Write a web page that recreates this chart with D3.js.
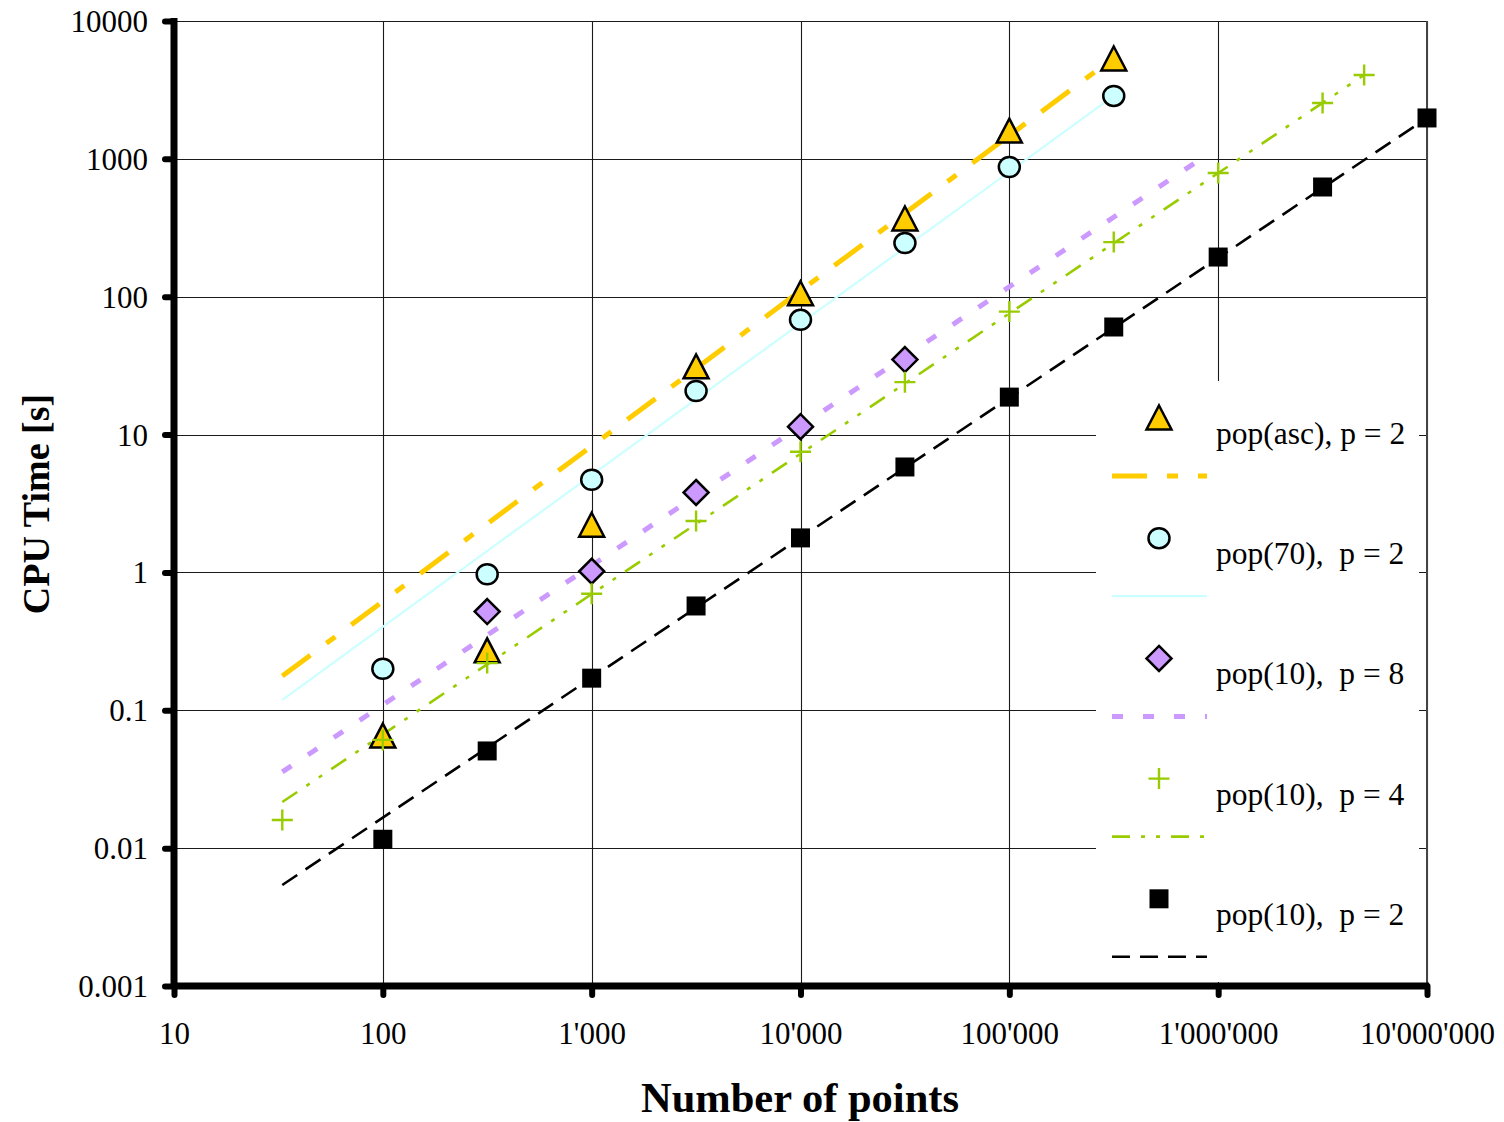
<!DOCTYPE html>
<html>
<head>
<meta charset="utf-8">
<script src="https://cdn.jsdelivr.net/npm/d3@7"></script>
<style>
    body { margin: 0; background: #fff; }
    svg { display: block; font-family: "Liberation Serif", "Times New Roman", serif; }
</style>
</head>
<body>
<svg id="chart" width="1504" height="1122"></svg>
<script>
// tick values
var xTicks = [10, 100, 1000, 10000, 100000, 1000000, 10000000];
var yTicks = [0.001, 0.01, 0.1, 1, 10, 100, 1000, 10000];

// pop(asc), p = 2
var ascX = [100, 316, 1000, 3162, 10000, 31623, 100000, 316228];
var ascY = [0.065, 0.27, 2.2, 31, 105, 366, 1590, 5300];
var ascTrend = [[33, 0.177], [316228, 5400]];

// pop(70), p = 2
var p70X = [100, 316, 1000, 3162, 10000, 31623, 100000, 316228];
var p70Y = [0.2, 0.97, 4.7, 20.7, 68, 245, 873, 2860];
var p70Trend = [[33, 0.119], [316228, 2860]];

// pop(10), p = 8
var p8X = [316, 1000, 3162, 10000, 31623];
var p8Y = [0.52, 1.02, 3.8, 11.4, 35];
var p8Trend = [[33, 0.0357], [885000, 1070]];

// pop(10), p = 4
var p4X = [33, 100, 316, 1000, 3162, 10000, 31623, 100000, 316228, 1000000, 3162278, 5000000];
var p4Y = [0.016, 0.061, 0.22, 0.7, 2.36, 7.5, 24, 78, 249, 790, 2540, 4060];
var p4Trend = [[33, 0.0216], [5000000, 4060]];

// pop(10), p = 2
var p2X = [100, 316, 1000, 3162, 10000, 31623, 100000, 316228, 1000000, 3162278, 10000000];
var p2Y = [0.0116, 0.0507, 0.171, 0.571, 1.78, 5.82, 18.7, 60.3, 194, 625, 1980];
var p2Trend = [[33, 0.0054], [10000000, 1980]];

var labels = ["pop(asc), p = 2", "pop(70),  p = 2", "pop(10),  p = 8", "pop(10),  p = 4", "pop(10),  p = 2"];

var series = [
    { x: ascX, y: ascY, trend: ascTrend, marker: "triangle", fill: "#FFCC00", line: "#FFCC00", width: 5, dash: "35,20,11,20" },
    { x: p70X, y: p70Y, trend: p70Trend, marker: "circle", fill: "#CCFFFF", line: "#CCFFFF", width: 2.2, dash: null },
    { x: p8X, y: p8Y, trend: p8Trend, marker: "diamond", fill: "#CC99FF", line: "#CC99FF", width: 5, dash: "11,20" },
    { x: p4X, y: p4Y, trend: p4Trend, marker: "plus", fill: "none", line: "#99CC00", width: 2.6, dash: "18,11,4,11,4,11" },
    { x: p2X, y: p2Y, trend: p2Trend, marker: "square", fill: "#000", line: "#000", width: 2.6, dash: "18,10" },
];

var plotL = 174, plotR = 1427, plotT = 21, plotB = 986;

var x = d3.scaleLog().domain([10, 1e7]).range([plotL, plotR]);
var y = d3.scaleLog().domain([0.001, 10000]).range([plotB, plotT]);

var svg = d3.select("#chart");

function markerPath(type) {
    if (type == "triangle") return "M0,-12.5L12.5,11.5L-12.5,11.5Z";
    if (type == "circle") return "M-10.5,0A10.5,10 0 1,0 10.5,0A10.5,10 0 1,0 -10.5,0Z";
    if (type == "diamond") return "M0,-12.5L12.5,0L0,12.5L-12.5,0Z";
    if (type == "square") return "M-9.5,-9.5L9.5,-9.5L9.5,9.5L-9.5,9.5Z";
    return "M-10.5,0L10.5,0M0,-10.5L0,10.5";
}

function drawMarker(g, s, cx, cy) {
    var p = g.append("path")
        .attr("d", markerPath(s.marker))
        .attr("transform", "translate(" + cx + "," + cy + ")");
    if (s.marker == "plus") {
        p.attr("fill", "none").attr("stroke", s.line).attr("stroke-width", 2.4);
    } else if (s.marker == "square") {
        p.attr("fill", "#000").attr("stroke", "none");
    } else {
        p.attr("fill", s.fill).attr("stroke", "#000").attr("stroke-width", 2.5)
            .attr("stroke-linejoin", "miter");
    }
}

// gridlines
var grid = svg.append("g").attr("stroke", "#1a1a1a").attr("stroke-width", 1.1);
yTicks.forEach(function (t) {
    grid.append("line")
        .attr("x1", plotL).attr("x2", plotR)
        .attr("y1", Math.round(y(t)) + 0.5).attr("y2", Math.round(y(t)) + 0.5);
});
xTicks.forEach(function (t) {
    grid.append("line")
        .attr("x1", Math.round(x(t)) + 0.5).attr("x2", Math.round(x(t)) + 0.5)
        .attr("y1", plotT).attr("y2", plotB);
});
grid.append("line").attr("x1", plotR).attr("x2", plotR).attr("y1", plotT).attr("y2", plotB)
    .attr("stroke", "#444").attr("stroke-width", 2);

// trend lines
var line = d3.line().x(function (d) { return x(d[0]); }).y(function (d) { return y(d[1]); });
series.forEach(function (s) {
    svg.append("path")
        .attr("d", line(s.trend))
        .attr("fill", "none")
        .attr("stroke", s.line)
        .attr("stroke-width", s.width)
        .attr("stroke-dasharray", s.dash);
});

// markers
series.forEach(function (s) {
    var g = svg.append("g");
    s.x.forEach(function (v, i) {
        drawMarker(g, s, x(v), y(s.y[i]));
    });
});

// axes
var fmt = function (d) { return d3.format(",")(d).replace(/,/g, "'"); };

var xAxis = svg.append("g")
    .attr("transform", "translate(0," + plotB + ")")
    .call(d3.axisBottom(x).tickValues(xTicks).tickFormat(fmt).tickSize(9).tickPadding(27));
var yAxis = svg.append("g")
    .attr("transform", "translate(" + plotL + ",0)")
    .call(d3.axisLeft(y).tickValues(yTicks).tickFormat(function (d) { return String(d); }).tickSize(9).tickPadding(17));

[xAxis, yAxis].forEach(function (a) {
    a.select(".domain").remove();
    a.selectAll(".tick line")
        .attr("stroke", "#000")
        .attr("stroke-width", 6)
        .attr("stroke-linecap", "round");
    a.selectAll(".tick text")
        .attr("fill", "#000")
        .style("font-family", "Liberation Serif, Times New Roman, serif")
        .style("font-size", "31px");
});
yAxis.selectAll(".tick text").attr("dy", "0.34em");

svg.append("line")
    .attr("x1", plotL).attr("x2", plotL).attr("y1", plotT - 3).attr("y2", plotB + 3)
    .attr("stroke", "#000").attr("stroke-width", 7);
svg.append("line")
    .attr("x1", plotL).attr("x2", plotR + 2).attr("y1", plotB).attr("y2", plotB)
    .attr("stroke", "#000").attr("stroke-width", 7);

// axis titles
svg.append("text")
    .attr("x", 800).attr("y", 1112)
    .attr("text-anchor", "middle")
    .style("font-weight", "bold").style("font-size", "42.5px")
    .text("Number of points");
svg.append("text")
    .attr("transform", "translate(49,504) rotate(-90)")
    .attr("text-anchor", "middle")
    .style("font-weight", "bold").style("font-size", "38px")
    .text("CPU Time [s]");

// legend
var legend = svg.append("g");
legend.append("rect")
    .attr("x", 1096).attr("y", 381)
    .attr("width", 323).attr("height", 601)
    .attr("fill", "#fff");

series.forEach(function (s, i) {
    var ly = 418 + i * 120.2;
    drawMarker(legend, s, 1159, ly);
    legend.append("line")
        .attr("x1", 1112).attr("x2", 1207)
        .attr("y1", ly + 58).attr("y2", ly + 58)
        .attr("stroke", s.line)
        .attr("stroke-width", s.width)
        .attr("stroke-dasharray", s.dash);
    legend.append("text")
        .attr("x", 1216).attr("y", ly + 26)
        .style("font-size", "31.5px")
        .style("white-space", "pre")
        .attr("xml:space", "preserve")
        .text(labels[i]);
});
</script>
</body>
</html>
